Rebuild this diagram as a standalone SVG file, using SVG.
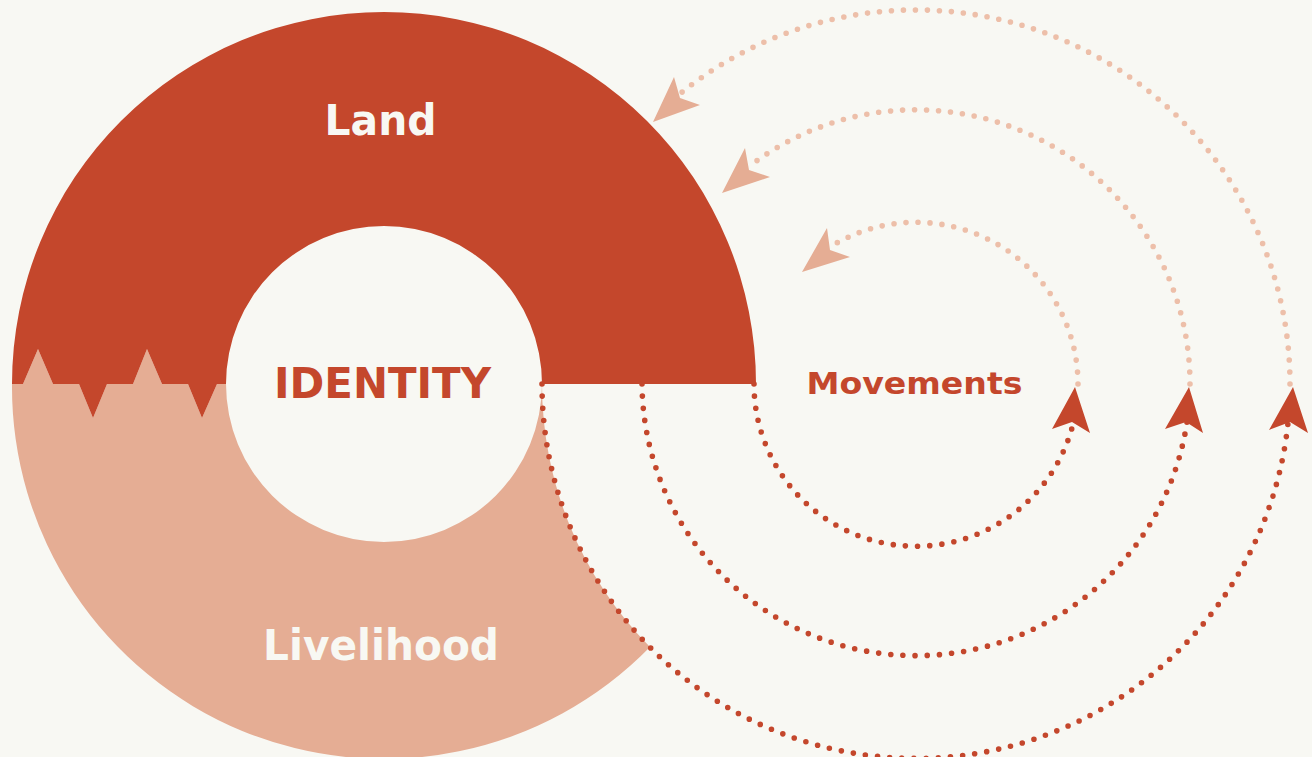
<svg xmlns="http://www.w3.org/2000/svg" width="1312" height="757" viewBox="0 0 1312 757">
  <style>
    .bg { fill: #F8F8F3; }
    .land { fill: #C4472C; }
    .live { fill: #E5AD94; }
    .dotDark { fill: none; stroke: #C4472C; stroke-width: 5.6; stroke-linecap: round; stroke-dasharray: 0 12.2; }
    .dotLight { fill: none; stroke: #EDBFA9; stroke-width: 5.6; stroke-linecap: round; stroke-dasharray: 0 12; }
    .arrDark { fill: #C4472C; }
    .arrLight { fill: #E5AD94; }
    .lbl { font-family: "DejaVu Sans", "Open Sans", sans-serif; font-weight: bold; text-anchor: middle; }
  </style>
  <rect class="bg" x="0" y="0" width="1312" height="757"/>

  <g id="livelihood">
    <path class="live" d="M12,384 L23,384 L38,349 L53,384 L79,384 L93,418 L107,384 L133,384 L147,349 L162,384 L188,384 L202,418 L217,384 L226,384 A158,158 0 0 0 542,384 A374,374 0 0 0 650,647 A372,372 0 0 1 12,384 Z"/>
    <text class="lbl" x="381" y="660" font-size="42" fill="#F8F8F3" textLength="236" lengthAdjust="spacingAndGlyphs">Livelihood</text>
  </g>

  <g id="land">
    <path class="land" d="M12,384 A372,372 0 0 1 756,384 L542,384 A158,158 0 0 0 226,384 L217,384 L202,418 L188,384 L162,384 L147,349 L133,384 L107,384 L93,418 L79,384 L53,384 L38,349 L23,384 Z"/>
    <text class="lbl" x="380.5" y="135" font-size="43" fill="#F8F8F3" textLength="112" lengthAdjust="spacingAndGlyphs">Land</text>
  </g>

  <g id="identity">
    <text class="lbl" x="382.5" y="398" font-size="43" fill="#C4472C" textLength="217" lengthAdjust="spacingAndGlyphs">IDENTITY</text>
  </g>

  <g id="movements">
    <text class="lbl" x="914.5" y="394" font-size="31" fill="#C4472C" textLength="216" lengthAdjust="spacingAndGlyphs">Movements</text>
  </g>

  <g id="connectors">
    <path class="dotDark" d="M542,384 A374,374 0 0 0 1288,423"/>
    <path class="dotDark" d="M642,384 A274,274 0 0 0 1187,422"/>
    <path class="dotDark" d="M754,384 A162,162 0 0 0 1074,420"/>
    <path class="dotLight" d="M1290,384 A374,374 0 0 0 681,93"/>
    <path class="dotLight" d="M1190,384 A274,274 0 0 0 751,165"/>
    <path class="dotLight" d="M1078,384 A162,162 0 0 0 830,247"/>
    <polygon class="arrDark" points="1075,387 1090,433 1072,422 1052,429"/>
    <polygon class="arrDark" points="1189,387 1203,433 1186,422 1165,429"/>
    <polygon class="arrDark" points="1293,387 1308,433 1290,422 1269,430"/>
    <polygon class="arrLight" points="653,122 674,77 680,98 700,105"/>
    <polygon class="arrLight" points="722,193 745,148 749,170 770,177"/>
    <polygon class="arrLight" points="802,272 827,228 830,250 850,257"/>
  </g>
</svg>
